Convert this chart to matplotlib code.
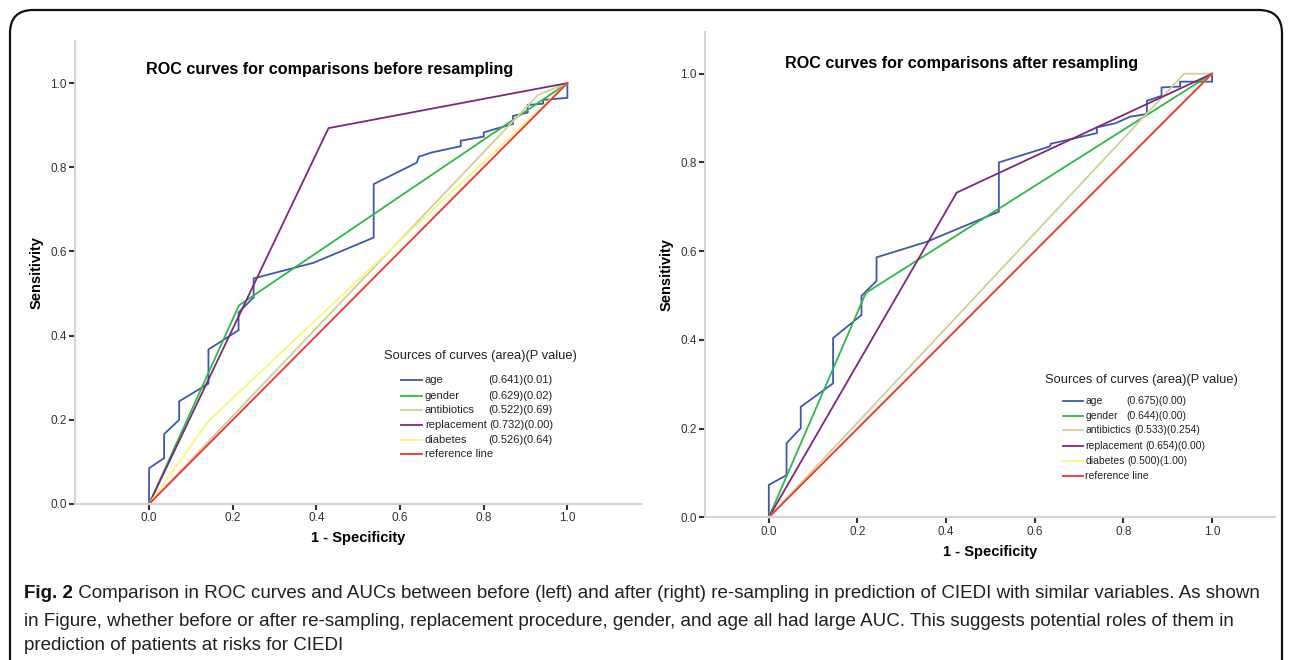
import matplotlib
matplotlib.use("Agg")
import matplotlib.pyplot as plt
from matplotlib.patches import FancyBboxPatch

plt.rcParams['font.family'] = ['Liberation Sans', 'DejaVu Sans']

# ---- data ----
names = ['age', 'gender', 'antibiotics', 'replacement', 'diabetes', 'reference line']
names_after = ['age', 'gender', 'antibictics', 'replacement', 'diabetes', 'reference line']
stats_before = ['(0.641)(0.01)', '(0.629)(0.02)', '(0.522)(0.69)', '(0.732)(0.00)', '(0.526)(0.64)', '']
stats_after = ['(0.675)(0.00)', '(0.644)(0.00)', '(0.533)(0.254)', '(0.654)(0.00)', '(0.500)(1.00)', '']
colors = ['#3e58ac', '#2eb848', '#d3ce97', '#7c287d', '#fbf873', '#ef3338']

# before resampling
age_b_x = [0, 0, 0.036, 0.036, 0.072, 0.072, 0.142, 0.142, 0.214, 0.214, 0.25, 0.25, 0.393, 0.537,
           0.537, 0.64, 0.645, 0.675, 0.745, 0.745, 0.80, 0.80, 0.87, 0.87, 0.905, 0.905, 0.942, 0.942, 1.0, 1.0]
age_b_y = [0, 0.085, 0.109, 0.166, 0.2, 0.244, 0.286, 0.367, 0.413, 0.455, 0.491, 0.536, 0.573, 0.633,
           0.76, 0.811, 0.825, 0.835, 0.85, 0.863, 0.873, 0.883, 0.903, 0.922, 0.93, 0.948, 0.951, 0.96, 0.965, 1.0]
gender_b_x = [0, 0.215, 1]
gender_b_y = [0, 0.472, 1]
anti_b_x = [0, 0.93, 1]
anti_b_y = [0, 0.972, 1]
repl_b_x = [0, 0.429, 1]
repl_b_y = [0, 0.893, 1]
diab_b_x = [0, 0.143, 1]
diab_b_y = [0, 0.198, 1]
ref_x = [0, 1]
ref_y = [0, 1]

# after resampling
age_a_x = [0, 0, 0.040, 0.040, 0.072, 0.072, 0.145, 0.145, 0.209, 0.209, 0.243, 0.243, 0.356, 0.519,
           0.519, 0.634, 0.636, 0.74, 0.74, 0.781, 0.815, 0.853, 0.853, 0.886, 0.886, 0.928, 0.928, 1.0, 1.0]
age_a_y = [0, 0.073, 0.095, 0.167, 0.201, 0.249, 0.302, 0.404, 0.456, 0.499, 0.533, 0.586, 0.621, 0.689,
           0.80, 0.836, 0.842, 0.866, 0.879, 0.888, 0.903, 0.909, 0.939, 0.95, 0.969, 0.971, 0.982, 0.982, 1.0]
gender_a_x = [0, 0.219, 1]
gender_a_y = [0, 0.506, 1]
anti_a_x = [0, 0.937, 1]
anti_a_y = [0, 1.0, 1]
repl_a_x = [0, 0.424, 1]
repl_a_y = [0, 0.732, 1]
diab_a_x = [0, 1]
diab_a_y = [0, 1]

ticks = [0.0, 0.2, 0.4, 0.6, 0.8, 1.0]

caption_bold = 'Fig. 2'
caption_lines = [
    ' Comparison in ROC curves and AUCs between before (left) and after (right) re-sampling in prediction of CIEDI with similar variables. As shown',
    'in Figure, whether before or after re-sampling, replacement procedure, gender, and age all had large AUC. This suggests potential roles of them in',
    'prediction of patients at risks for CIEDI',
]

fig = plt.figure(figsize=(12.92, 6.60), dpi=100)
fig.patch.set_facecolor('white')
renderer = fig.canvas.get_renderer()

# rounded frame
frame = FancyBboxPatch((10 / 1292, -0.2), 1272 / 1292, 1.2 - 10 / 660,
                       boxstyle='round,pad=0,rounding_size=0.018', transform=fig.transFigure,
                       fill=False, edgecolor='#111111', linewidth=1.6, mutation_aspect=1292 / 660)
fig.patches.append(frame)


def panel(rect, xlim, ylim, series, labels, stats, title, title_xy, leg, entry_size):
    ax = fig.add_axes(rect)
    for (xs, ys), c in zip(series, colors):
        ax.plot(xs, ys, color=c, lw=1.3, solid_joinstyle='miter', clip_on=False)
    ax.set_xlim(*xlim)
    ax.set_ylim(*ylim)
    ax.set_xticks(ticks)
    ax.set_yticks(ticks)
    ax.set_xticklabels(['%.1f' % t for t in ticks])
    ax.set_yticklabels(['%.1f' % t for t in ticks])
    for s in ['top', 'right']:
        ax.spines[s].set_visible(False)
    for s in ['left', 'bottom']:
        ax.spines[s].set_color('#d4d4d4')
        ax.spines[s].set_linewidth(1.5)
    ax.tick_params(axis='both', direction='out', length=4, width=1.5, color='#333333',
                   labelsize=8.5, labelcolor='#333333', pad=2)
    ax.set_xlabel('1 - Specificity', fontsize=10.5, fontweight='bold', labelpad=5)
    ax.set_ylabel('Sensitivity', fontsize=10.5, fontweight='bold', labelpad=5)
    ax.text(title_xy[0], title_xy[1], title, transform=ax.transAxes, ha='center', va='center',
            fontsize=11.6, fontweight='bold')
    tx, ty, lx0, lx1, labx, valx, rows = leg
    ax.text(tx, ty, 'Sources of curves (area)(P value)', transform=ax.transAxes,
            fontsize=9.3, color='#222222', va='center')
    for i, (lab, st) in enumerate(zip(labels, stats)):
        y = rows[i]
        ax.plot([lx0, lx1], [y, y], color=colors[i], lw=1.3, transform=ax.transAxes, clip_on=False)
        t = ax.text(labx, y, lab, transform=ax.transAxes, fontsize=entry_size, va='center',
                    color='#222222')
        if st:
            end = ax.transAxes.inverted().transform(t.get_window_extent(renderer))[1][0]
            ax.text(max(valx, end + 0.005), y, st, transform=ax.transAxes, fontsize=entry_size,
                    va='center', color='#222222')
    return ax


series_b = [(age_b_x, age_b_y), (gender_b_x, gender_b_y), (anti_b_x, anti_b_y),
            (repl_b_x, repl_b_y), (diab_b_x, diab_b_y), (ref_x, ref_y)]
series_a = [(age_a_x, age_a_y), (gender_a_x, gender_a_y), (anti_a_x, anti_a_y),
            (repl_a_x, repl_a_y), (diab_a_x, diab_a_y), (ref_x, ref_y)]

panel([75 / 1292, 1 - 504 / 660, 566 / 1292, 463 / 660], (-0.177, 1.176), (0, 1.10),
      series_b, names, stats_before, 'ROC curves for comparisons before resampling', (0.45, 0.939),
      (0.546, 0.32, 0.576, 0.613, 0.618, 0.73, [0.268, 0.233, 0.203, 0.171, 0.138, 0.108]), 8.0)
panel([705 / 1292, 1 - 517.3 / 660, 570 / 1292, 485.3 / 660], (-0.144, 1.142), (0, 1.094),
      series_a, names_after, stats_after, 'ROC curves for comparisons after resampling', (0.45, 0.936),
      (0.596, 0.283, 0.628, 0.663, 0.667, 0.74, [0.24, 0.209, 0.18, 0.147, 0.116, 0.085]), 7.5)

# caption
cap_font = ['Liberation Sans', 'DejaVu Sans']
cap_y = [1 - 594 / 660, 1 - 621 / 660, 1 - 646 / 660]
t0 = fig.text(24 / 1292, cap_y[0], caption_bold, fontsize=13.5, fontweight='bold',
              family=cap_font, va='center', color='#111111')
bb = t0.get_window_extent(renderer)
fig.text(bb.x1 / fig.bbox.width, cap_y[0], caption_lines[0], fontsize=13.5, family=cap_font,
         va='center', color='#231f20')
for line, y in zip(caption_lines[1:], cap_y[1:]):
    fig.text(24 / 1292, y, line, fontsize=13.5, family=cap_font, va='center', color='#231f20')

fig.savefig('out.png', dpi=100)
